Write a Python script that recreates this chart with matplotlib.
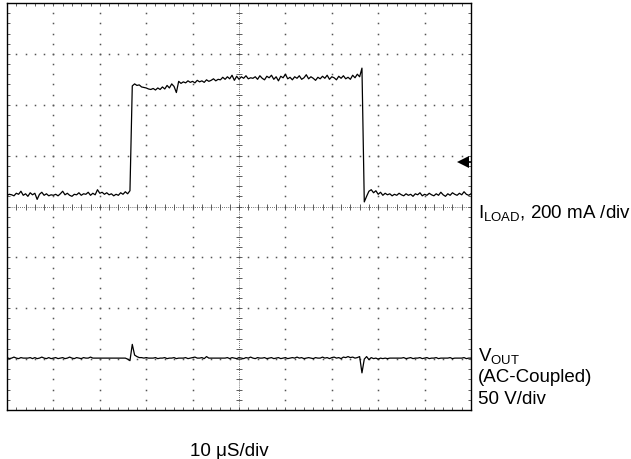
import numpy as np
import matplotlib
matplotlib.use('Agg')
import matplotlib.pyplot as plt

matplotlib.rcParams['font.family'] = ['Liberation Sans', 'DejaVu Sans']
matplotlib.rcParams['mathtext.fontset'] = 'custom'
matplotlib.rcParams['mathtext.rm'] = 'Liberation Sans'
matplotlib.rcParams['mathtext.it'] = 'Liberation Sans:italic'

# scope samples, 0.05 div apart, screen values in divisions (0 = centre line)
step = 0.05

i_load_low = [0.22, 0.24, 0.23, 0.21, 0.26, 0.24, 0.30, 0.22, 0.25, 0.20,
              0.27, 0.23, 0.26, 0.14, 0.24, 0.28, 0.22, 0.25, 0.21, 0.23,
              0.22, 0.24, 0.21, 0.25, 0.30, 0.23, 0.26, 0.22, 0.20, 0.24,
              0.23, 0.27, 0.22, 0.25, 0.24, 0.28, 0.22, 0.26, 0.23, 0.33,
              0.26, 0.28, 0.24, 0.27, 0.23, 0.25, 0.21, 0.24, 0.22, 0.27,
              0.24, 0.29, 0.25, 0.31]
i_load_high = [2.37, 2.41, 2.38, 2.39, 2.35, 2.34, 2.33, 2.31, 2.30, 2.32,
               2.29, 2.33, 2.30, 2.35, 2.31, 2.38, 2.33, 2.41, 2.36, 2.24,
               2.46, 2.42, 2.45, 2.43, 2.47, 2.44, 2.46, 2.43, 2.48, 2.45,
               2.47, 2.44, 2.49, 2.46, 2.48, 2.51, 2.47, 2.50, 2.49, 2.54,
               2.50, 2.55, 2.51, 2.58, 2.48, 2.56, 2.50, 2.55, 2.52, 2.57,
               2.51, 2.53, 2.52, 2.55, 2.50, 2.57, 2.52, 2.49, 2.56, 2.53,
               2.58, 2.50, 2.55, 2.47, 2.56, 2.53, 2.60, 2.51, 2.54, 2.49,
               2.55, 2.52, 2.57, 2.50, 2.53, 2.59, 2.51, 2.55, 2.52, 2.48,
               2.54, 2.51, 2.56, 2.52, 2.58, 2.50, 2.55, 2.53, 2.49, 2.56,
               2.52, 2.57, 2.51, 2.54, 2.50, 2.58, 2.53, 2.60, 2.55, 2.72]
i_load_tail = [0.09, 0.20, 0.30, 0.33, 0.27, 0.31, 0.24, 0.28, 0.22, 0.26,
               0.23, 0.25, 0.21, 0.24, 0.22, 0.26, 0.23, 0.21, 0.25, 0.22,
               0.24, 0.20, 0.25, 0.23, 0.27, 0.21, 0.24, 0.22, 0.26, 0.23,
               0.21, 0.25, 0.22, 0.28, 0.23, 0.20, 0.25, 0.22, 0.27, 0.24,
               0.22, 0.26, 0.23, 0.29, 0.24, 0.22, 0.25]
i_load = i_load_low + i_load_high + i_load_tail

v_out = [-2.97, -2.99, -2.98, -2.96, -2.98, -2.99, -2.97, -2.98, -2.98, -2.98,
         -2.97, -2.99, -2.97, -2.99, -2.98, -2.96, -2.98, -2.99, -2.97, -2.99,
         -2.98, -2.97, -2.99, -2.98, -2.97, -2.99, -2.98, -2.96, -2.98, -2.99,
         -2.97, -2.98, -2.99, -2.97, -2.98, -2.98, -2.96, -2.98, -2.98, -2.98,
         -2.98, -2.98, -2.98, -2.98, -2.98, -2.98, -2.98, -2.98, -2.98, -2.98,
         -2.98, -2.98, -3.00, -3.03, -2.71, -2.92, -2.95, -2.97, -2.97, -2.98,
         -2.97, -2.98, -2.98, -2.98, -2.97, -2.99, -2.98, -2.98, -2.97, -2.99,
         -2.98, -2.98, -2.97, -2.99, -2.98, -2.98, -2.98, -2.97, -2.99, -2.98,
         -2.97, -2.96, -2.98, -2.98, -2.97, -2.99, -2.95, -2.98, -2.98, -2.98,
         -2.98, -2.98, -2.98, -2.98, -2.98, -2.97, -2.99, -2.97, -2.98, -2.99,
         -2.97, -2.98, -2.99, -2.97, -2.98, -2.96, -2.98, -2.99, -2.97, -2.98,
         -2.98, -2.97, -2.99, -2.98, -2.97, -2.99, -2.98, -2.97, -2.99, -2.98,
         -2.97, -2.99, -2.98, -2.97, -2.98, -2.96, -2.98, -2.97, -2.99, -2.98,
         -2.97, -2.98, -2.99, -2.97, -2.98, -2.98, -2.96, -2.98, -2.97, -2.99,
         -2.97, -2.96, -2.98, -2.97, -2.99, -2.96, -2.97, -2.95, -2.97, -2.96,
         -2.98, -2.97, -2.95, -3.27, -3.00, -2.95, -3.01, -2.97, -2.99, -2.98,
         -3.00, -2.98, -2.99, -2.98, -2.99, -2.98, -2.98, -2.98, -2.98, -2.98,
         -2.98, -2.97, -2.99, -2.98, -2.97, -2.99, -2.98, -2.98, -2.97, -2.99,
         -2.98, -2.97, -2.99, -2.98, -2.98, -2.97, -2.99, -2.98, -2.98, -2.98,
         -2.98, -2.97, -2.99, -2.98, -2.98, -2.98, -2.98, -2.97, -2.99, -2.98,
         -2.98]

t = np.arange(len(i_load)) * step
marker_level = 0.87  # channel reference arrow on the right

fig = plt.figure(figsize=(6.31, 4.59), dpi=100)
ax = fig.add_axes([7 / 631, 49 / 459, 464 / 631, 407 / 459])
ax.set_xlim(0, 10)
ax.set_ylim(-4, 4)

# graticule: dotted major lines
minor_y = np.arange(-4, 4.001, 0.2)
minor_x = np.arange(0, 10.001, 0.2)
for gx in [1, 2, 3, 4, 6, 7, 8, 9]:
    ax.plot(np.full_like(minor_y, gx), minor_y, ls='none', marker='s',
            ms=1.1, mew=0, color='#555555', zorder=1)
for gy in [-3, -2, -1, 1, 2, 3]:
    ax.plot(minor_x, np.full_like(minor_x, gy), ls='none', marker='s',
            ms=1.1, mew=0, color='#555555', zorder=1)
# centre cross with ticks
ax.axhline(0, color='#444444', lw=0.6, ls=(0, (1, 1.5)), zorder=1)
ax.axvline(5, color='#444444', lw=0.6, ls=(0, (1, 1.5)), zorder=1)
ax.plot(minor_x, np.zeros_like(minor_x), ls='none', marker='|', ms=4,
        mew=0.6, color='#444444', zorder=1)
ax.plot(np.full_like(minor_y, 5), minor_y, ls='none', marker='_', ms=4,
        mew=0.6, color='#444444', zorder=1)

ax.plot(t, i_load, color='black', lw=0.9, zorder=3)
ax.plot(t, v_out, color='black', lw=0.9, zorder=3)

# reference arrow
ax.plot([9.84, 10], [marker_level, marker_level], color='black', lw=1.2)
ax.plot([9.83], [marker_level], marker='<', ms=8, color='black', mew=0)

ax.set_xticks(np.arange(0, 10.01, 1))
ax.set_yticks(np.arange(-4, 4.01, 1))
ax.set_xticks(minor_x, minor=True)
ax.set_yticks(minor_y, minor=True)
ax.tick_params(which='both', direction='in', length=2.5, width=0.6,
               top=True, right=True, labelbottom=False, labelleft=False,
               color='#444444')
for s in ax.spines.values():
    s.set_linewidth(1.0)
    s.set_color('black')

fs = 13.5
fig.text(478 / 631, 1 - 213 / 459, r'I$_{\mathrm{LOAD}}$, 200 mA /div',
         fontsize=fs, va='center', ha='left')
fig.text(478 / 631, 1 - 356 / 459, r'V$_{\mathrm{OUT}}$', fontsize=fs,
         va='center', ha='left')
fig.text(478 / 631, 1 - 377 / 459, '(AC-Coupled)', fontsize=fs,
         va='center', ha='left')
fig.text(478 / 631, 1 - 399 / 459, '50 V/div', fontsize=fs,
         va='center', ha='left')
fig.text(229 / 631, 1 - 451 / 459, '10 μS/div', fontsize=fs,
         va='center', ha='center')

fig.savefig('out.png', dpi=100)
